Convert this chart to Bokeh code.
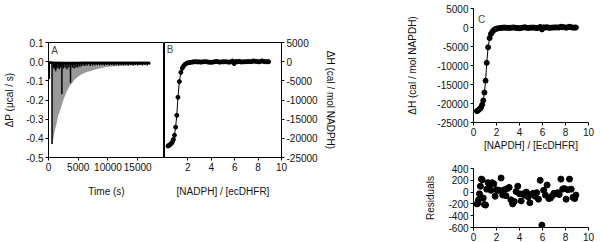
from bokeh.plotting import figure
from bokeh.layouts import row, column
from bokeh.models import FixedTicker, Range1d, Label, NumeralTickFormatter
from bokeh.embed import file_html
from bokeh.resources import INLINE

FONT = "Liberation Sans"

# ---- Panel A: raw thermogram ----
env_t = [560, 600, 700, 1000, 1300, 1650, 2000, 2500, 3000, 3500, 4000, 4500,
         5000, 5500, 6200, 7200, 8500, 10000, 12000, 14000, 16000, 17000]
env_d = [0, -0.43, -0.42, -0.37, -0.33, -0.28, -0.25, -0.20, -0.16, -0.13, -0.11,
         -0.09, -0.078, -0.067, -0.057, -0.048, -0.035, -0.027, -0.022, -0.020,
         -0.018, -0.015]
spike_t = [150, 590, 800, 1000, 1200, 1400, 1600, 1800, 2000, 2250, 2500, 2800,
           3100, 3400, 3700, 4000, 4300, 4600, 4900, 5200, 5500, 5800, 6100,
           6500, 7000, 7400, 7800, 8200, 8600, 9000, 9400, 9800, 10200, 10600,
           11000, 11400, 11800, 12200, 12600, 13000, 13400, 13800, 14200, 14600,
           15000, 15400, 15800, 16200, 16600, 17000]
spike_d = [-0.09, -0.43, -0.03, -0.04, -0.05, -0.035, -0.03, -0.04, -0.03, -0.17,
           -0.035, -0.03, -0.04, -0.03, -0.11, -0.03, -0.035, -0.03, -0.03,
           -0.025, -0.025, -0.02, -0.022, -0.02, -0.022, -0.02, -0.02, -0.018,
           -0.02, -0.018, -0.02, -0.018, -0.02, -0.018, -0.02, -0.018, -0.02,
           -0.018, -0.02, -0.018, -0.02, -0.018, -0.02, -0.018, -0.02, -0.018,
           -0.02, -0.018, -0.02, -0.015]
base_t = [0, 1000, 2000, 3000, 4000, 5000, 6000, 8000, 10000, 12000, 14000, 17000]
base_y = [-0.003, -0.008, -0.01, -0.01, -0.009, -0.008, -0.007, -0.007, -0.007,
          -0.007, -0.007, -0.007]

# ---- Panels B/C: integrated heats, residuals ----
ratio = [0.30, 0.37, 0.44, 0.52, 0.60, 0.68, 0.76, 0.85, 0.95, 1.05, 1.15, 1.27,
         1.40, 1.52, 1.64, 1.76, 1.88, 2.00, 2.13, 2.26, 2.40, 2.54, 2.68, 2.82,
         2.96, 3.10, 3.25, 3.40, 3.55, 3.70, 3.85, 4.00, 4.15, 4.30, 4.45, 4.60,
         4.75, 4.90, 5.05, 5.20, 5.35, 5.50, 5.65, 5.80, 5.95, 6.10, 6.25, 6.40,
         6.55, 6.70, 6.85, 7.00, 7.15, 7.30, 7.45, 7.60, 7.75, 7.90, 8.05, 8.20,
         8.35, 8.50, 8.65, 8.80, 8.90]
dH = [-22000, -21900, -21700, -21500, -21300, -20900, -20300, -19200, -17100,
      -14000, -9300, -5200, -2800, -1700, -1100, -700, -450, -300, -250, -150,
      -100, -50, 0, -80, -50, -120, -60, -20, 0, -100, -150, -180, -100, -20, 50,
      -50, -120, -40, -50, -20, -60, -120, -80, 150, -500, 50, -30, 80, -80, -60,
      -20, 0, 20, 10, 0, 200, 80, 60, -60, 50, 200, 40, -40, 0, -20]
resid = [-200, -190, -130, -30, 100, 220, 210, -100, -210, -220, 50, 160, 130, 30,
         160, 140, -70, 40, 30, 30, 240, -50, 40, -60, 60, 80, -130, -200, -160,
         10, 100, -30, -150, -30, -50, 0, -80, -180, -40, -20, -70, -10, -120, 200,
         -560, 30, -50, 120, -110, -100, -60, -20, -30, -10, -40, 220, 50, 60,
         -120, 40, 220, 50, -90, -110, -50]

a_yticks = [0.1, 0.0, -0.1, -0.2, -0.3, -0.4, -0.5]
a_xticks = [0, 5000, 10000, 15000]
h_ticks = [5000, 0, -5000, -10000, -15000, -20000, -25000]
r_ticks = [400, 200, 0, -200, -400, -600]
b_xticks = [2, 4, 6, 8, 10]
c_xticks = [0, 2, 4, 6, 8, 10]


def style(p, outline=True):
    p.grid.visible = False
    p.outline_line_color = "black" if outline else None
    p.background_fill_color = "white"
    p.border_fill_color = "white"
    for ax in p.axis:
        ax.major_label_text_font = FONT
        ax.major_label_text_font_size = "10px"
        ax.major_label_text_color = "#111111"
        ax.axis_label_text_font = FONT
        ax.axis_label_text_font_size = "10px"
        ax.axis_label_text_font_style = "normal"
        ax.axis_label_text_color = "#111111"
        ax.axis_line_color = "black"
        ax.major_tick_line_color = "black"
        ax.minor_tick_line_color = None
        ax.major_tick_in = 0
        ax.major_tick_out = 3
        ax.major_label_standoff = 2


# Panel A
pA = figure(title=None, frame_width=116, frame_height=115, min_border_left=48,
            min_border_right=0, min_border_top=42, min_border_bottom=85,
            x_range=Range1d(0, 19500), y_range=Range1d(-0.5, 0.1),
            output_backend="svg", toolbar_location=None)
pA.varea(x=env_t, y1=[0] * len(env_t), y2=env_d, fill_color="#999999")
pA.segment(x0=spike_t, y0=[0] * len(spike_t), x1=spike_t, y1=spike_d,
           line_color="black", line_width=1.5)
pA.line(base_t, base_y, line_color="black", line_width=2.5)
style(pA)
pA.yaxis.ticker = FixedTicker(ticks=a_yticks)
pA.yaxis.formatter = NumeralTickFormatter(format="0.0")
pA.xaxis.ticker = FixedTicker(ticks=a_xticks)
pA.xaxis.formatter = NumeralTickFormatter(format="0")
pA.yaxis.axis_label = "ΔP (μcal / s)"
pA.yaxis.axis_label_standoff = 8
pA.xaxis.axis_label = "Time (s)"
pA.xaxis.axis_label_standoff = 12
pA.add_layout(Label(x=450, y=0.085, text="A", text_font=FONT, text_font_size="10px",
                    text_baseline="top"))

# Panel B
pB = figure(title=None, frame_width=117, frame_height=115, min_border_left=0,
            min_border_right=120, min_border_top=42, min_border_bottom=85,
            x_range=Range1d(0, 10), y_range=Range1d(-25000, 5000),
            y_axis_location="right", output_backend="svg", toolbar_location=None)
pB.line(ratio, dH, line_color="black", line_width=1)
pB.scatter(ratio, dH, size=4, color="black")
style(pB)
pB.yaxis.ticker = FixedTicker(ticks=h_ticks)
pB.yaxis.formatter = NumeralTickFormatter(format="0")
pB.xaxis.ticker = FixedTicker(ticks=b_xticks)
pB.yaxis.axis_label = "ΔH (cal / mol NADPH)"
pB.yaxis.axis_label_standoff = 4
pB.xaxis.axis_label = "[NADPH] / [ecDHFR]"
pB.xaxis.axis_label_standoff = 12
pB.add_layout(Label(x=0.2, y=4500, text="B", text_font=FONT, text_font_size="10px",
                    text_baseline="top"))

# Panel C
pC = figure(title=None, frame_width=115, frame_height=114, min_border_left=72,
            min_border_right=10, min_border_top=8, min_border_bottom=36,
            x_range=Range1d(0, 10), y_range=Range1d(-25000, 5000),
            output_backend="svg", toolbar_location=None)
pC.line(ratio, dH, line_color="black", line_width=1)
pC.scatter(ratio, dH, size=5, color="black")
style(pC, outline=False)
pC.yaxis.ticker = FixedTicker(ticks=h_ticks)
pC.yaxis.formatter = NumeralTickFormatter(format="0")
pC.xaxis.ticker = FixedTicker(ticks=c_xticks)
pC.yaxis.axis_label = "ΔH (cal / mol NAPDH)"
pC.yaxis.axis_label_standoff = 16
pC.xaxis.axis_label = "[NAPDH] / [EcDHFR]"
pC.xaxis.axis_label_standoff = 1
pC.add_layout(Label(x=0.4, y=3600, text="C", text_font=FONT, text_font_size="10px",
                    text_baseline="top"))

# Residuals
pR = figure(title=None, frame_width=115, frame_height=59, min_border_left=72,
            min_border_right=10, min_border_top=10, min_border_bottom=15,
            x_range=Range1d(0, 10), y_range=Range1d(-600, 400),
            output_backend="svg", toolbar_location=None)
pR.scatter(ratio, resid, size=6, color="black")
style(pR, outline=False)
pR.yaxis.ticker = FixedTicker(ticks=r_ticks)
pR.yaxis.formatter = NumeralTickFormatter(format="0")
pR.xaxis.ticker = FixedTicker(ticks=c_xticks)
pR.yaxis.axis_label = "Residuals"
pR.yaxis.axis_label_standoff = 9

p = row(pA, pB, column(pC, pR, spacing=0), spacing=0)
open("out.html", "w").write(file_html(p, INLINE))
